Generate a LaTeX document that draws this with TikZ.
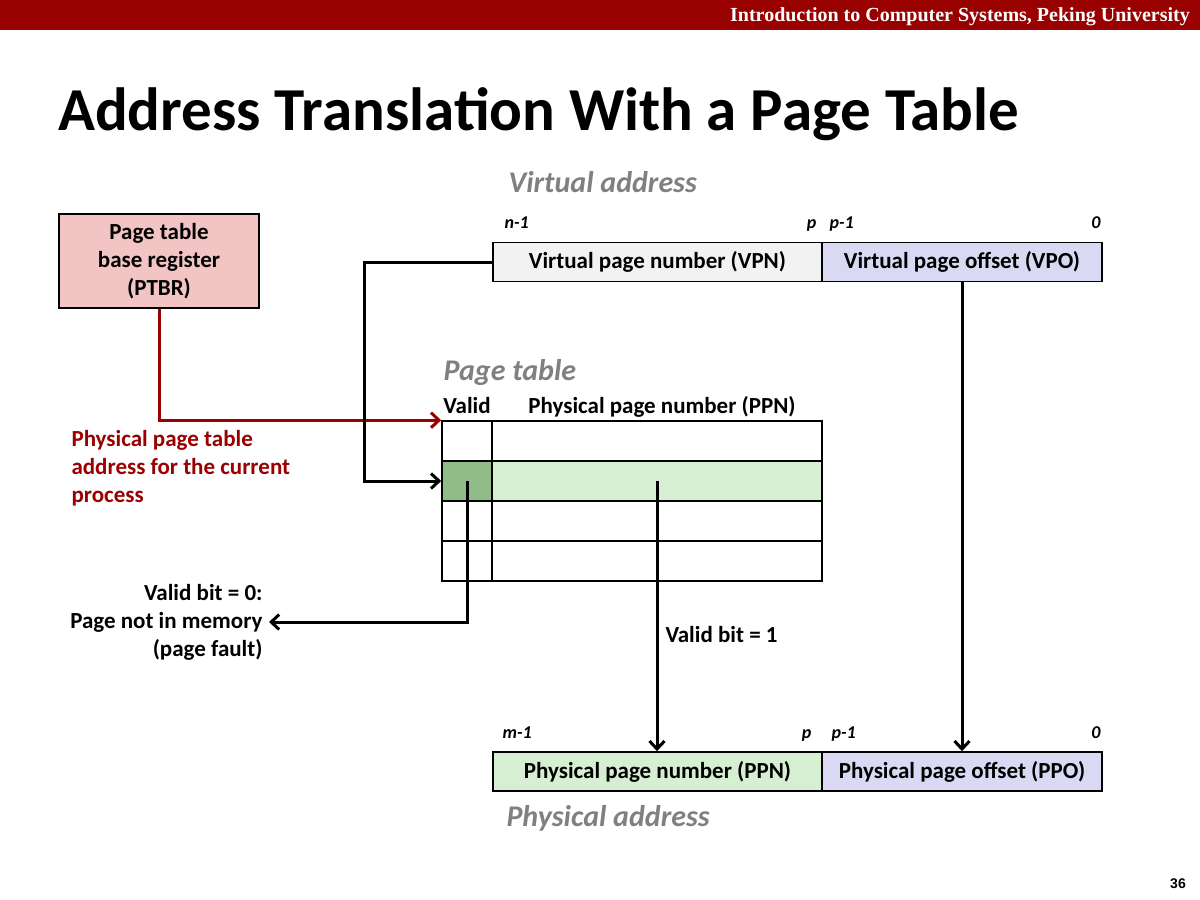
\documentclass[tikz,border=0pt]{standalone}
\usepackage{fontspec}
\setmainfont{Carlito}
\newfontfamily\headfont{Liberation Serif}
\newfontfamily\numfont{Liberation Sans}
\usetikzlibrary{arrows.meta,positioning}
\definecolor{ptred}{RGB}{153,0,0}
\definecolor{ptpink}{RGB}{242,196,196}
\definecolor{vpngray}{RGB}{242,242,242}
\definecolor{offblue}{RGB}{217,217,243}
\definecolor{ppngreen}{RGB}{214,239,211}
\definecolor{validgreen}{RGB}{143,188,135}
\definecolor{labgray}{RGB}{128,128,128}
\tikzset{txt/.style = {font=\bfseries\fontsize{23}{28}\selectfont},
  field/.style = {draw, line width=1.6pt, minimum height=39pt, inner sep=0pt, txt},
  cell/.style = {draw, line width=1.6pt, minimum height=40pt, inner sep=0pt},
  bitlab/.style = {font=\bfseries\itshape\fontsize{18}{20}\selectfont},
  caption/.style = {text=labgray, anchor=base west, font=\bfseries\itshape\fontsize{30}{32}\selectfont},
  link/.style = {line width=3pt, -{Straight Barb[length=8pt,width=15pt,line width=3pt]}}}

\begin{document}
\begin{tikzpicture}[x=1pt, y=-1pt]
  \useasboundingbox (0,0) rectangle (1200,900);
  \fill[ptred] (0,0) rectangle (1200,30);
  \node[anchor=base east, text=white, inner sep=0pt, font=\headfont\bfseries\fontsize{20}{22}\selectfont] (header) at (1190,21) {Introduction to Computer Systems, Peking University};
  \node[anchor=base west, inner sep=0pt, font=\bfseries\fontsize{61}{66}\selectfont] (title) at (58,130) {Address Translation With a Page Table};

  \node[field, fill=ptpink, minimum width=200pt, minimum height=94pt, align=center] (ptbr) at (159,261) {Page table\\base register\\(PTBR)};

  \node[caption] (vaddr) at (505,192) {Virtual address};
  \node[field, fill=vpngray, minimum width=329pt] (vpn) at (657.5,262) {Virtual page number (VPN)};
  \node[field, fill=offblue, minimum width=280pt] (vpo) at (962,262) {Virtual page offset (VPO)};
  \node[bitlab, anchor=base west] (vn) at (501,228) {n-1};
  \node[bitlab, anchor=base east] (vp) at (820,228) {p};
  \node[bitlab, anchor=base west] (vq) at (826,228) {p-1};
  \node[bitlab, anchor=base east] (vz) at (1104,228) {0};

  \node[caption] (ptcap) at (440,380) {Page table};
  \foreach \r/\vc/\nc in {1/white/white, 2/validgreen/ppngreen, 3/white/white, 4/white/white}{
    \node[cell, fill=\vc, minimum width=50pt] (v\r) at (467,401+40*\r) {};
    \node[cell, fill=\nc, minimum width=330pt] (n\r) at (657,401+40*\r) {};
  }
  \node[txt, anchor=base] (validlab) at (467,413) {Valid};
  \node[txt, anchor=base] (ppnlab) at (662,413) {Physical page number (PPN)};

  \node[txt, text=ptred, align=left, anchor=west] (ptaddr) at (68,468) {Physical page table\\address for the current\\process};
  \node[txt, align=right, anchor=east] (fault) at (266,622) {Valid bit = 0:\\Page not in memory\\(page fault)};
  \node[txt, anchor=west] (hit) at (662,635) {Valid bit = 1};

  \node[field, fill=ppngreen, minimum width=329pt] (ppn) at (657.5,771.5) {Physical page number (PPN)};
  \node[field, fill=offblue, minimum width=280pt] (ppo) at (962,771.5) {Physical page offset (PPO)};
  \node[bitlab, anchor=base west] (pm) at (499,738) {m-1};
  \node[bitlab, anchor=base east] (pp) at (815,738) {p};
  \node[bitlab, anchor=base west] (pq) at (828,738) {p-1};
  \node[bitlab, anchor=base east] (pz) at (1104,738) {0};
  \node[caption] (paddr) at (503,826) {Physical address};

  \coordinate (vbend) at (364,262);
  \draw[link, ptred] (ptbr.south) |- (v1.north west);
  \draw[link] (vpn.west) -- (vbend) |- (v2.west);
  \draw[link, shorten >=3pt] (v2.center) |- (fault.east);
  \draw[link] (n2.center) -- (n2.center |- ppn.north);
  \draw[link] (vpo.south) -- (vpo.south |- ppo.north);

  \node[font=\numfont\bfseries\fontsize{14}{16}\selectfont] (pgnum) at (1178,884) {36};
\end{tikzpicture}
\end{document}
